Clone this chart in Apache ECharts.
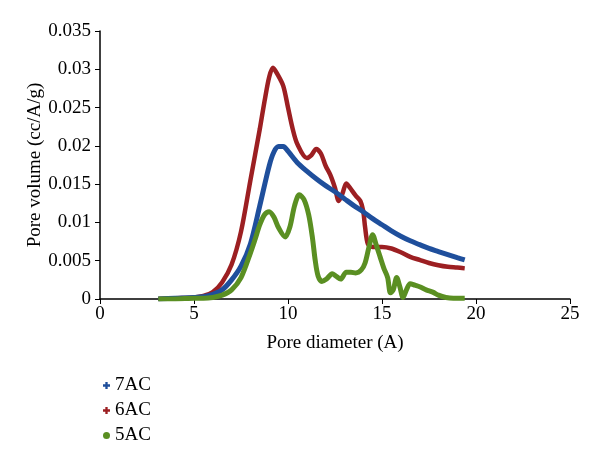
<!DOCTYPE html>
<html>
<head>
<meta charset="utf-8">
<script src="https://cdn.jsdelivr.net/npm/echarts@6/dist/echarts.min.js"></script>
<style>
  html, body { margin: 0; padding: 0; background: #fff; }
  #chart { width: 600px; height: 466px; }
</style>
</head>
<body>
<div id="chart"></div>
<script>
// pore diameter (A) / pore volume (cc/A/g)
const x7 = [3.1, 4, 5, 5.5, 6, 6.5, 7, 7.5, 8, 8.5, 9, 9.25, 9.5, 9.75, 10, 10.5, 11, 11.5, 12, 12.5, 13, 13.5, 14, 14.5, 15, 15.5, 16, 16.5, 17, 17.5, 18, 18.5, 19, 19.4];
const y7 = [0, 0.0001, 0.0002, 0.0003, 0.0006, 0.0012, 0.0025, 0.0043, 0.0072, 0.0122, 0.0174, 0.0192, 0.0199, 0.0199, 0.0193, 0.0178, 0.0167, 0.0157, 0.0148, 0.014, 0.0131, 0.0122, 0.0114, 0.0105, 0.0097, 0.0089, 0.0082, 0.0076, 0.0071, 0.0066, 0.0062, 0.0058, 0.0054, 0.0051];

const x6 = [3.1, 4, 5, 5.5, 6, 6.5, 7, 7.5, 8, 8.5, 8.75, 9, 9.2, 9.45, 9.75, 10, 10.25, 10.5, 11, 11.25, 11.5, 11.75, 12, 12.25, 12.5, 12.7, 12.9, 13.1, 13.3, 13.6, 13.85, 14, 14.1, 14.25, 14.5, 15, 15.5, 16, 16.5, 17, 17.5, 18, 18.5, 19, 19.4];
const y6 = [0, 0.0001, 0.0002, 0.0004, 0.0009, 0.0022, 0.0045, 0.0088, 0.0155, 0.0222, 0.0258, 0.029, 0.0302, 0.0293, 0.0278, 0.025, 0.0222, 0.0202, 0.0184, 0.0188, 0.0196, 0.019, 0.0174, 0.0162, 0.0145, 0.0128, 0.0138, 0.0151, 0.0145, 0.0135, 0.0128, 0.0115, 0.0094, 0.0072, 0.0068, 0.0068, 0.0066, 0.0061, 0.0055, 0.0051, 0.0047, 0.0044, 0.0042, 0.0041, 0.004];

const x5 = [3.1, 4, 5, 5.5, 6, 6.5, 7, 7.5, 8, 8.25, 8.5, 8.75, 9, 9.25, 9.5, 9.85, 10.1, 10.35, 10.6, 10.85, 11.1, 11.3, 11.45, 11.6, 11.8, 12.05, 12.35, 12.55, 12.8, 13.1, 13.35, 13.6, 13.9, 14.1, 14.3, 14.5, 14.7, 14.9, 15.1, 15.3, 15.45, 15.6, 15.78, 15.95, 16.12, 16.3, 16.5, 16.75, 17, 17.35, 17.7, 18, 18.4, 18.8, 19.4];
const y5 = [0, 0, 0.0001, 0.0001, 0.0002, 0.0005, 0.0012, 0.0028, 0.006, 0.0078, 0.0097, 0.011, 0.0114, 0.0107, 0.0093, 0.0081, 0.0094, 0.0122, 0.0136, 0.013, 0.011, 0.008, 0.005, 0.003, 0.0023, 0.0026, 0.0033, 0.003, 0.0026, 0.0035, 0.0035, 0.0034, 0.0038, 0.0047, 0.0067, 0.0084, 0.007, 0.0055, 0.004, 0.0028, 0.0008, 0.0012, 0.0028, 0.0016, 0.0002, 0.0012, 0.002, 0.0018, 0.0016, 0.0012, 0.0009, 0.0005, 0.0002, 0.0001, 0.0001];

const xTicks = [0, 5, 10, 15, 20, 25];
const yTicks = [0, 0.005, 0.01, 0.015, 0.02, 0.025, 0.03, 0.035];

const pair = (xs, ys) => xs.map((x, i) => [x, ys[i]]);
const plusIcon = 'path://M2,0h2v2h2v2h-2v2h-2v-2h-2v-2h2z';
const font = '"Liberation Serif", "DejaVu Serif", serif';

const chart = echarts.init(document.getElementById('chart'));

const option = {
  backgroundColor: '#fff',
  animation: false,
  textStyle: { fontFamily: font, color: '#000' },
  grid: { left: 100, right: 30, top: 31, bottom: 167 },
  legend: {
    orient: 'vertical',
    left: 98,
    top: 371,
    itemGap: 6,
    itemWidth: 7,
    itemHeight: 7,
    textStyle: { fontFamily: font, fontSize: 19, color: '#000' },
    data: [
      { name: '7AC', icon: plusIcon },
      { name: '6AC', icon: plusIcon },
      { name: '5AC', icon: 'circle' }
    ]
  },
  xAxis: {
    type: 'value',
    min: 0,
    max: 25,
    interval: 5,
    name: 'Pore diameter (A)',
    nameLocation: 'middle',
    nameGap: 35,
    nameTextStyle: { fontFamily: font, fontSize: 19, color: '#000' },
    axisLine: { lineStyle: { color: '#000', width: 1.5 } },
    axisTick: { show: true, length: 5, lineStyle: { color: '#000' } },
    axisLabel: {
      fontFamily: font, fontSize: 19, color: '#000', margin: 6,
      formatter: v => xTicks.includes(v) ? String(v) : ''
    },
    splitLine: { show: false }
  },
  yAxis: {
    type: 'value',
    min: 0,
    max: 0.035,
    interval: 0.005,
    name: 'Pore volume (cc/A/g)',
    nameLocation: 'middle',
    nameGap: 55,
    nameMoveOverlap: false,
    nameTextStyle: { fontFamily: font, fontSize: 19, color: '#000' },
    axisLine: { show: true, lineStyle: { color: '#000', width: 1.5 } },
    axisTick: { show: true, length: 5, lineStyle: { color: '#000' } },
    axisLabel: {
      fontFamily: font, fontSize: 19, color: '#000', margin: 9,
      formatter: v => {
        const t = yTicks.find(k => Math.abs(k - v) < 1e-9);
        return t === undefined ? '' : (t === 0 ? '0' : String(+t.toFixed(3)));
      }
    },
    splitLine: { show: false }
  },
  series: [
    {
      name: '7AC', type: 'line', smooth: 0.3, showSymbol: false,
      itemStyle: { color: '#1f4f9c' },
      lineStyle: { color: '#1f4f9c', width: 5 },
      data: pair(x7, y7), z: 3
    },
    {
      name: '6AC', type: 'line', smooth: 0.3, showSymbol: false,
      itemStyle: { color: '#9c1f22' },
      lineStyle: { color: '#9c1f22', width: 4.5 },
      data: pair(x6, y6), z: 2
    },
    {
      name: '5AC', type: 'line', smooth: 0.3, showSymbol: false,
      itemStyle: { color: '#5a8f22' },
      lineStyle: { color: '#5a8f22', width: 5 },
      data: pair(x5, y5), z: 4
    }
  ]
};

chart.setOption(option);
</script>
</body>
</html>
